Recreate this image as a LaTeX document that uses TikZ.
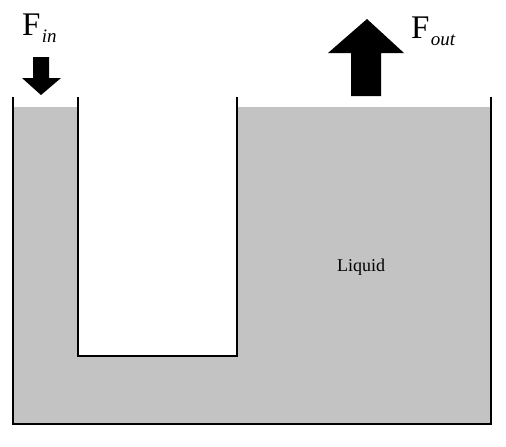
\documentclass[tikz,border=0pt]{standalone}
\usepackage{fontspec}
\setmainfont{Liberation Serif}
\usepackage{xcolor}
\definecolor{liquidgray}{RGB}{195,195,195}

\begin{document}
\begin{tikzpicture}[
  x=1pt, y=-1pt,
  wall/.style={draw=black, line width=1.6pt},
  force/.style={fill=black},
  bigF/.style={inner sep=0pt, anchor=base west, font=\fontsize{33}{36}\selectfont},
  subtxt/.style={inner sep=0pt, anchor=base west, font=\fontsize{19}{21}\selectfont\itshape}
]
\useasboundingbox (0,0) rectangle (506,447);

% liquid
\fill[liquidgray] (13,107) -- (78,107) -- (78,356) -- (237,356) -- (237,107)
  -- (491,107) -- (491,424) -- (13,424) -- cycle;
\node[font=\fontsize{18}{20}\selectfont] (liquid) at (361,267) {Liquid};

% container walls
\draw[wall] (13,97) -- (13,424) -- (491,424) -- (491,97);
\draw[wall] (78,97) -- (78,356) -- (237,356) -- (237,97);

% input force
\fill[force] (33,57) -- (49,57) -- (49,78) -- (61,78) -- (41,95) -- (22,78) -- (33,78) -- cycle;
\node[bigF] (fin) at (22,35) {F};
\node[subtxt] (finsub) at ([xshift=1pt,yshift=-7pt]fin.base east) {in};

% output force
\fill[force] (351,96) -- (381,96) -- (381,53) -- (404,53) -- (367,19) -- (328,53) -- (351,53) -- cycle;
\node[bigF] (fout) at (411,38) {F};
\node[subtxt] (foutsub) at ([xshift=1pt,yshift=-7pt]fout.base east) {out};
\end{tikzpicture}
\end{document}
